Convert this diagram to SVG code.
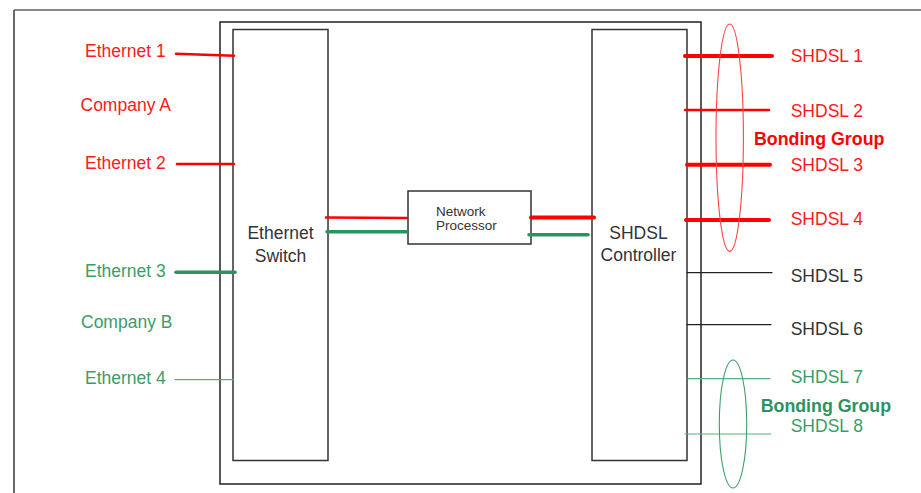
<svg xmlns="http://www.w3.org/2000/svg" width="921" height="493" viewBox="0 0 921 493">
<style>
text{font-family:"Liberation Sans",Arial,sans-serif;font-size:17.5px}
.red{fill:#ff1a1a}
.grn{fill:#3a9e68}
.blk{fill:#333}
.box{fill:#fff;stroke:#333;stroke-width:1.5}
.bold{font-weight:bold;font-size:17.8px}
</style>
<rect width="921" height="493" fill="#fff"/>
<g id="frame">
<line x1="14" y1="10" x2="921" y2="10" stroke="#888" stroke-width="2"/>
<line x1="14" y1="10" x2="14" y2="493" stroke="#444" stroke-width="1.6"/>
</g>
<g id="device"><rect x="220" y="22" width="481" height="462" fill="#fff" stroke="#222" stroke-width="1.5"/></g>
<g id="ethernet-switch">
<rect class="box" x="233" y="29.5" width="95" height="431"/>
<text class="blk" x="280.5" y="239" text-anchor="middle">Ethernet</text>
<text class="blk" x="280.5" y="261.5" text-anchor="middle">Switch</text>
</g>
<g id="network-processor">
<rect class="box" x="408" y="191" width="123" height="53"/>
<text class="blk" x="436" y="216" style="font-size:13.5px">Network</text>
<text class="blk" x="436" y="230" style="font-size:13.5px">Processor</text>
</g>
<g id="shdsl-controller">
<rect class="box" x="592" y="29.5" width="95" height="431"/>
<text class="blk" x="638.5" y="239.3" text-anchor="middle">SHDSL</text>
<text class="blk" x="638.5" y="261" text-anchor="middle">Controller</text>
</g>
<g id="connectors" stroke-linecap="round">
<line x1="176" y1="53.8" x2="234" y2="55.8" stroke="#f00" stroke-width="2.5"/>
<line x1="177" y1="164" x2="234" y2="164" stroke="#f00" stroke-width="2.5"/>
<line x1="176" y1="272.3" x2="235" y2="272.3" stroke="#2e9160" stroke-width="3.5"/>
<line x1="175" y1="379.7" x2="233" y2="379.7" stroke="#5cb080" stroke-width="1.2"/>
<line x1="326" y1="217.5" x2="407" y2="218" stroke="#f00" stroke-width="2.5"/>
<line x1="327" y1="231.7" x2="407" y2="231.7" stroke="#2e9160" stroke-width="3.5"/>
<line x1="531" y1="217.5" x2="594" y2="217.5" stroke="#f00" stroke-width="4"/>
<line x1="529" y1="234.7" x2="588" y2="234.7" stroke="#2e9160" stroke-width="3.5"/>
<line x1="685" y1="56" x2="772" y2="56" stroke="#f00" stroke-width="4"/>
<line x1="685" y1="110" x2="769" y2="110" stroke="#f00" stroke-width="2.5"/>
<line x1="687" y1="164.7" x2="770" y2="164.7" stroke="#f00" stroke-width="4"/>
<line x1="686" y1="220" x2="769" y2="220" stroke="#f00" stroke-width="4"/>
<line x1="687" y1="272.7" x2="772" y2="272.7" stroke="#222" stroke-width="1.2"/>
<line x1="687" y1="324.7" x2="771" y2="324.7" stroke="#222" stroke-width="1.2"/>
<line x1="688" y1="378.7" x2="770" y2="378.7" stroke="#5cb080" stroke-width="1.2"/>
<line x1="685" y1="434" x2="771" y2="434" stroke="#5cb080" stroke-width="1.2"/>
<ellipse cx="729.7" cy="137.7" rx="13.7" ry="113.7" fill="none" stroke="#f44" stroke-width="1.1"/>
<ellipse cx="733" cy="424" rx="13.7" ry="64" fill="none" stroke="#3a9e68" stroke-width="1.1"/>
</g>
<g id="labels-left">
<text class="red" x="85" y="57">Ethernet 1</text>
<text class="red" x="80.5" y="111">Company A</text>
<text class="red" x="85" y="168.5">Ethernet 2</text>
<text class="grn" x="85" y="276.5">Ethernet 3</text>
<text class="grn" x="81" y="328.2">Company B</text>
<text class="grn" x="85" y="384">Ethernet 4</text>
</g>
<g id="labels-right">
<text class="red" x="790.7" y="62.3">SHDSL 1</text>
<text class="red" x="790.7" y="117.3">SHDSL 2</text>
<text class="red bold" x="754" y="145" style="fill:#f00">Bonding Group</text>
<text class="red" x="790.7" y="170.7">SHDSL 3</text>
<text class="red" x="790.7" y="225">SHDSL 4</text>
<text class="blk" x="790.7" y="281.7">SHDSL 5</text>
<text class="blk" x="790.7" y="335">SHDSL 6</text>
<text class="grn" x="790.7" y="383.3">SHDSL 7</text>
<text class="bold" x="760.7" y="412.3" style="fill:#2e9160">Bonding Group</text>
<text class="grn" x="790.7" y="431.7">SHDSL 8</text>
</g>
</svg>
